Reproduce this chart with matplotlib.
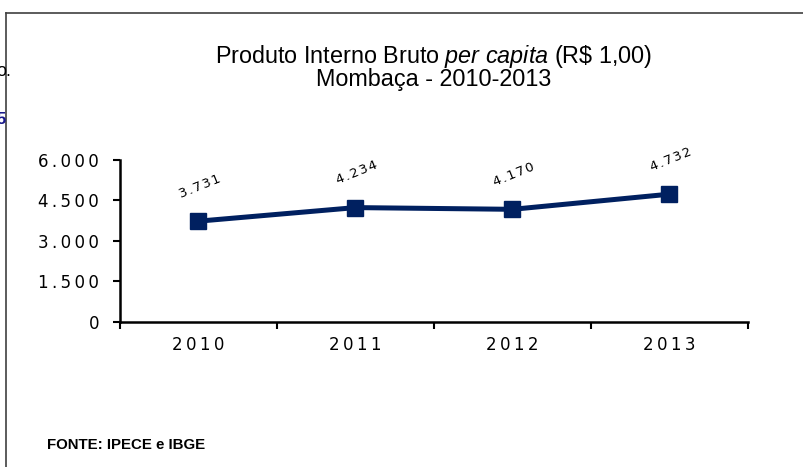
import matplotlib
matplotlib.use("Agg")
import matplotlib.pyplot as plt
from matplotlib.lines import Line2D
from matplotlib.ticker import FuncFormatter

# Data
years = ["2010", "2011", "2012", "2013"]
pib_per_capita = [3731, 4234, 4170, 4732]
y_ticks = [0, 1500, 3000, 4500, 6000]

W, H = 804, 467
DPI = 100
NAVY = "#002060"
THIN = "\u2009"
HAIR = "\u200a"
NUM_FONT = ["DejaVu Sans"]

plt.rcParams["font.family"] = ["Liberation Sans", "DejaVu Sans"]
plt.rcParams["mathtext.fontset"] = "custom"
plt.rcParams["mathtext.rm"] = "Liberation Sans"
plt.rcParams["mathtext.it"] = "Liberation Sans:italic"


def br_format(v, pos=None):
    return f"{int(v):,}".replace(",", ".")


def spaced(s, sep=THIN):
    # the reference draws numbers with wide letter spacing
    return sep.join(s)


def main():
    fig = plt.figure(figsize=(W / DPI, H / DPI), dpi=DPI)

    # outer frame (top and left edges visible)
    fig.add_artist(Line2D([6.5 / W, 6.5 / W], [0, 1 - 13 / H], transform=fig.transFigure,
                          color="#404040", lw=1.2))
    fig.add_artist(Line2D([6.5 / W, 1], [1 - 13 / H, 1 - 13 / H], transform=fig.transFigure,
                          color="#404040", lw=1.2))

    # clipped fragments at the left edge
    fig.text(-4 / W, 1 - 72 / H, "o.", fontsize=13, color="black", va="center", ha="left")
    fig.text(-3 / W, 1 - 120 / H, "5", fontsize=12, color="#1a1a8c", va="center", ha="left",
             fontweight="bold")

    ax = fig.add_axes([120 / W, 1 - 321.7 / H, 628 / W, 161.7 / H])
    x = [i + 0.5 for i in range(len(years))]
    ax.plot(x, pib_per_capita, color=NAVY, lw=3.6, marker="s", markersize=11.5,
            solid_joinstyle="round")

    for xi, v in zip(x, pib_per_capita):
        ax.annotate(spaced(br_format(v), HAIR), (xi, v), xytext=(1, 25),
                    textcoords="offset points", ha="center", va="center", rotation=22,
                    fontsize=9.5, family=NUM_FONT)

    ax.set_xlim(0, 4)
    ax.set_ylim(0, 6000)
    ax.set_yticks(y_ticks)
    ax.yaxis.set_major_formatter(FuncFormatter(lambda v, p: spaced(br_format(v))))
    ax.set_xticks([0, 1, 2, 3, 4])
    ax.set_xticklabels([])
    ax.set_xticks(x, minor=True)
    ax.set_xticklabels([spaced(y) for y in years], minor=True, fontsize=12, family=NUM_FONT)
    ax.tick_params(axis="x", which="minor", length=0, pad=10)
    ax.tick_params(axis="x", which="major", length=5, width=1.5, direction="out")
    ax.tick_params(axis="y", length=5, width=1.5, direction="out", labelsize=12, pad=10)
    for lbl in ax.get_yticklabels():
        lbl.set_family(NUM_FONT)

    for s in ["top", "right"]:
        ax.spines[s].set_visible(False)
    for s in ["left", "bottom"]:
        ax.spines[s].set_linewidth(1.8)

    fig.text(434 / W, 1 - 63 / H, "Produto Interno Bruto $\\it{per\\ capita}$ (R\\$ 1,00)",
             ha="center", va="baseline", fontsize=16.8)
    fig.text(434 / W, 1 - 86 / H, "Mombaça - 2010-2013", ha="center", va="baseline",
             fontsize=16.8)

    fig.text(47 / W, 1 - 445 / H, "FONTE: IPECE e IBGE", ha="left", va="center",
             fontsize=10.8, fontweight="bold")

    fig.savefig("out.png", dpi=DPI)


if __name__ == "__main__":
    main()
